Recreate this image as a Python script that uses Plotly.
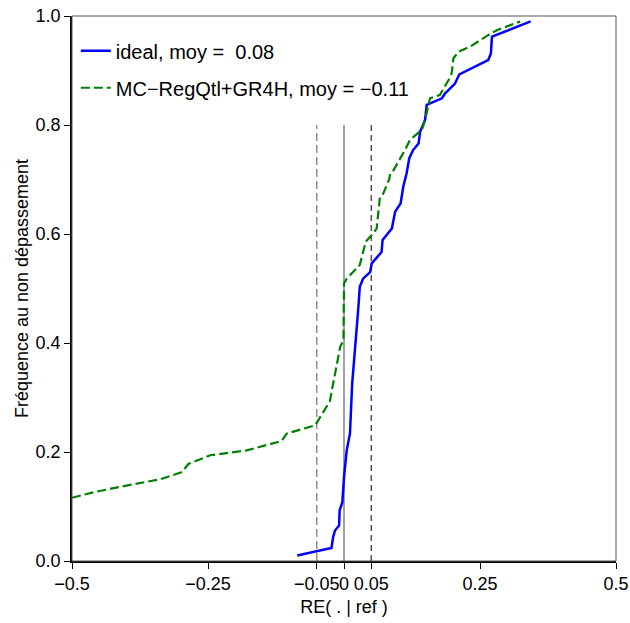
import plotly.graph_objects as go

# ---- data ----
ideal_x = [-0.086, -0.023, -0.020, -0.0165, -0.009, -0.008, -0.003, 0.0, 0.005, 0.008, 0.011,
           0.015, 0.020, 0.0245, 0.026, 0.029, 0.035, 0.048, 0.051, 0.069, 0.071, 0.088, 0.094,
           0.104, 0.109, 0.115, 0.120, 0.127, 0.137, 0.140, 0.149, 0.152, 0.159, 0.180, 0.186,
           0.204, 0.212, 0.228, 0.265, 0.270, 0.272, 0.343]
ideal_y = [0.010, 0.024, 0.044, 0.056, 0.065, 0.093, 0.108, 0.154, 0.203, 0.221, 0.234,
           0.325, 0.387, 0.429, 0.460, 0.503, 0.518, 0.530, 0.546, 0.567, 0.589, 0.610, 0.641,
           0.656, 0.687, 0.711, 0.739, 0.754, 0.766, 0.788, 0.809, 0.837, 0.840, 0.849, 0.858,
           0.876, 0.893, 0.901, 0.919, 0.931, 0.962, 0.990]

mc_x = [-0.5, -0.461, -0.412, -0.338, -0.298, -0.286, -0.246, -0.179, -0.115, -0.105, -0.053,
        -0.026, -0.020, -0.007, -0.001, 0.0, 0.005, 0.029, 0.040, 0.051, 0.060, 0.066, 0.072,
        0.083, 0.085, 0.091, 0.112, 0.121, 0.131, 0.143, 0.149, 0.158, 0.176, 0.192, 0.198,
        0.201, 0.210, 0.232, 0.265, 0.281, 0.324]
mc_y = [0.116, 0.126, 0.136, 0.150, 0.163, 0.178, 0.194, 0.203, 0.220, 0.234, 0.249,
        0.293, 0.325, 0.393, 0.405, 0.509, 0.518, 0.543, 0.586, 0.598, 0.610, 0.667, 0.674,
        0.700, 0.711, 0.717, 0.754, 0.772, 0.781, 0.791, 0.809, 0.849, 0.855, 0.882, 0.895,
        0.922, 0.934, 0.944, 0.965, 0.974, 0.990]

series_names = ["ideal, moy =  0.08", "MC\u2212RegQtl+GR4H, moy = \u22120.11"]

x_tickvals = [-0.5, -0.25, -0.05, 0, 0.05, 0.25, 0.5]
x_ticktext = ["\u22120.5", "\u22120.25", "\u22120.05", "0", "0.05", "0.25", "0.5"]
y_tickvals = [0.0, 0.2, 0.4, 0.6, 0.8, 1.0]
y_ticktext = ["0.0", "0.2", "0.4", "0.6", "0.8", "1.0"]

ref_lines_x = [-0.05, 0.0, 0.05]
ref_line_top = 0.8

FONT = "Liberation Sans, Arial, sans-serif"

fig = go.Figure()
fig.add_trace(go.Scatter(x=ideal_x, y=ideal_y, mode="lines", name=series_names[0],
                         line=dict(color="#0000FF", width=2.5), legendgroup="a"))
fig.add_trace(go.Scatter(x=mc_x, y=mc_y, mode="lines", name=series_names[1],
                         line=dict(color="#008000", width=2.2, dash="9px,4px"), legendgroup="b"))

styles = [dict(color="#808080", width=1.3, dash="8px,4px"),
          dict(color="#707070", width=1.3),
          dict(color="#000000", width=1, dash="6px,4px")]
for xv, st in zip(ref_lines_x, styles):
    fig.add_shape(type="line", xref="x", yref="y", x0=xv, x1=xv, y0=0, y1=ref_line_top,
                  line=st, layer="below")

# gray box
fig.add_shape(type="rect", xref="paper", yref="paper", x0=0, x1=1, y0=0, y1=1,
              line=dict(color="#555555", width=1))

fig.update_layout(
    width=630, height=623,
    margin=dict(l=72, r=14, t=16, b=62),
    paper_bgcolor="white", plot_bgcolor="white",
    font=dict(family=FONT, size=18, color="black"),
    showlegend=True,
    legend=dict(x=0.007, y=0.972, xanchor="left", yanchor="top",
                bgcolor="rgba(0,0,0,0)", font=dict(size=20),
                tracegroupgap=8, itemwidth=30),
    xaxis=dict(range=[-0.5, 0.5], tickvals=x_tickvals, ticktext=x_ticktext, tickangle=0,
               automargin=False,
               showgrid=False, zeroline=False, showline=True, linecolor="black", linewidth=1.5,
               ticks="outside", ticklen=6, tickcolor="black", tickwidth=1,
               title=dict(text="RE( . | ref )", standoff=7, font=dict(size=18))),
    yaxis=dict(range=[0, 1], tickvals=y_tickvals, ticktext=y_ticktext,
               automargin=False,
               showgrid=False, zeroline=False, showline=True, linecolor="black", linewidth=1.5,
               ticks="outside", ticklen=6, tickcolor="black", tickwidth=1,
               title=dict(text="Fréquence au non dépassement", standoff=2, font=dict(size=18))),
)

fig.write_html("out.html", config={"displayModeBar": False},
               post_script="document.body.style.margin='0';")
